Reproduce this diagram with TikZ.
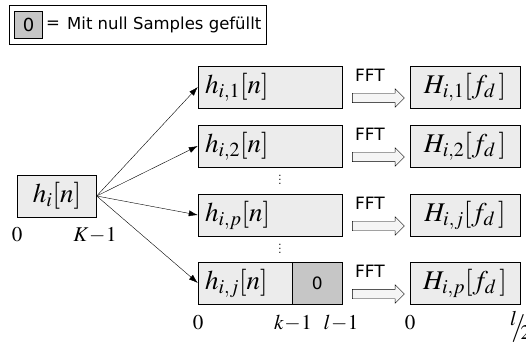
\documentclass[tikz,border=0pt]{standalone}
\usepackage{mathptmx}
\usepackage[no-math]{fontspec}
\setmainfont{DejaVu Sans}
\usetikzlibrary{shapes.arrows,arrows.meta}

\begin{document}
\begin{tikzpicture}[x=1pt,y=-1pt,
  box/.style={draw,fill=gray!15,minimum height=42pt,inner ysep=0pt,font=\fontsize{27}{29}\selectfont},
  zero/.style={draw,fill=gray!45,minimum height=42pt,inner sep=0pt,font=\fontsize{17}{19}\selectfont},
  fft/.style={single arrow,draw,fill=gray!8,minimum height=52pt,inner xsep=0pt,inner ysep=4.5pt,
    single arrow head extend=4.5pt},
  lab/.style={font=\fontsize{21}{23}\selectfont},
  sans/.style={font=\fontsize{16.5}{18}\selectfont}]
\useasboundingbox (0,0) rectangle (526,344);

% legend
\node[draw,fill=white,minimum width=257pt,minimum height=39pt,inner sep=0pt] (leg) at (137.5,24.5) {};
\node[draw,fill=gray!45,minimum width=28pt,minimum height=27pt,inner sep=0pt,font=\fontsize{18}{20}\selectfont] (z0) at (28.5,25) {0};
\node[sans] (eq) at (53,25) {=};
\node[anchor=west,inner sep=0pt,sans] (txt) at (67,25) {Mit null Samples gefüllt};

% input
\node[box,minimum width=79pt,inner xsep=0pt] (hi) at (57,196) {$h_i[n]$};

% middle column
\node[box,text width=130pt,inner xsep=7pt,align=left] (b1) at (270,87) {$h_{i,1}[n]$};
\node[box,text width=130pt,inner xsep=7pt,align=left] (b2) at (270,146) {$h_{i,2}[n]$};
\node[box,text width=130pt,inner xsep=7pt,align=left] (b3) at (270,215) {$h_{i,p}[n]$};
\node[box,text width=80pt,inner xsep=7pt,align=left] (b4) at (245,283) {$h_{i,j}[n]$};
\node[zero,minimum width=50pt,anchor=west] (z4) at (b4.east) {0};
\node[font=\fontsize{10}{10}\selectfont,inner sep=0pt] (d1) at (280,177) {$\vdots$};
\node[font=\fontsize{10}{10}\selectfont,inner sep=0pt] (d2) at (280,246) {$\vdots$};

% right column
\node[box,minimum width=110pt,inner xsep=0pt] (H1) at (465,87) {$H_{i,1}[f_d\,]$};
\node[box,minimum width=110pt,inner xsep=0pt] (H2) at (465,146) {$H_{i,2}[f_d\,]$};
\node[box,minimum width=110pt,inner xsep=0pt] (H3) at (465,215) {$H_{i,j}[f_d\,]$};
\node[box,minimum width=110pt,inner xsep=0pt] (H4) at (465,283) {$H_{i,p}[f_d\,]$};

% FFT arrows
\foreach \r/\y in {1/87,2/146,3/215,4/283}{
  \node[font=\fontsize{17}{19}\selectfont] (f\r) at (370,\y-12) {FFT};
  \node[fft] (a\r) at (376,\y+11) {};
}

\foreach \b in {b1,b2,b3,b4}
  \draw[-{Latex[length=9pt,width=6pt]}] (hi.east) -- (\b.west);

% axis labels
\node[lab] (p0) at (17,235) {$0$};
\node[lab] (pK) at (95,235) {$K\!-\!1$};
\node[lab] (q0) at (198,323) {$0$};
\node[lab] (qk) at (293,323) {$k\!-\!1$};
\node[lab] (ql) at (341,323) {$l\!-\!1$};
\node[lab] (r0) at (410,323) {$0$};
\node[font=\fontsize{28}{30}\selectfont,anchor=north west,inner sep=0pt] (rl) at (510,311) {$^{l}\!\!/_{\!\!2}$};
\end{tikzpicture}
\end{document}
